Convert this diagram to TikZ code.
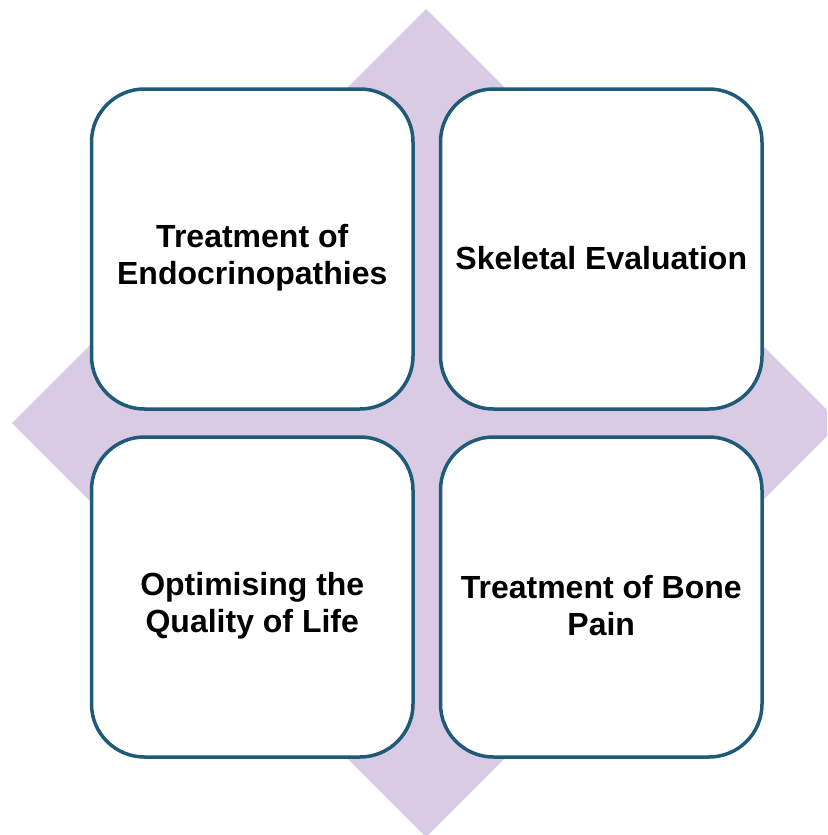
\documentclass[tikz,border=0pt]{standalone}
\usepackage{fontspec}
\setmainfont{Liberation Sans}
\definecolor{lav}{HTML}{DACBE5}
\definecolor{edge}{HTML}{1F5A78}
\begin{document}
\begin{tikzpicture}[x=1pt,y=-1pt,
  card/.style={draw=edge, line width=3.5pt, fill=white, rounded corners=53pt},
  cardtext/.style={align=center, font=\bfseries\fontsize{32}{37}\selectfont, text=black}]
\useasboundingbox (0,0) rectangle (827,835);
\clip (0,0) rectangle (827,835);
% background diamond
\fill[lav] (426,9) -- (840,423) -- (426,837) -- (12,423) -- cycle;
% four cards
\draw[card] (91.5,89) rectangle (413,409);
\draw[card] (440.5,89) rectangle (762,409);
\draw[card] (91.5,437) rectangle (413,757);
\draw[card] (440.5,437) rectangle (762,757);
\coordinate (tl) at (252.25,249);
\coordinate (tr) at (601.25,249);
\coordinate (bl) at (252.25,597);
\coordinate (br) at (601.25,597);
\node[cardtext] (tlt) at ([yshift=-9pt]tl) {Treatment of\\Endocrinopathies};
\node[cardtext] (trt) at ([yshift=-9pt]tr) {Skeletal Evaluation};
\node[cardtext] (blt) at ([yshift=-9pt]bl) {Optimising the\\Quality of Life};
\node[cardtext] (brt) at ([yshift=-9pt]br) {Treatment of Bone\\Pain};
\end{tikzpicture}
\end{document}
